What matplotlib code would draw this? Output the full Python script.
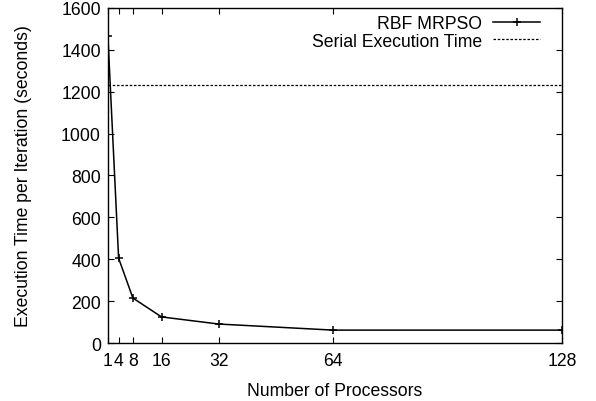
import matplotlib
matplotlib.use('Agg')
import matplotlib.pyplot as plt

plt.rcParams['font.family'] = ['Liberation Sans', 'DejaVu Sans']

processors = [1, 4, 8, 16, 32, 64, 128]
exec_time = [1466, 405, 215, 125, 91, 62, 62]
serial_time = 1230
yticks = [0, 200, 400, 600, 800, 1000, 1200, 1400, 1600]

fs = 12.7

fig = plt.figure(figsize=(5.96, 4.02), dpi=100)
ax = fig.add_axes([0.181, 0.144, 0.762, 0.834])

ax.plot(processors, exec_time, color='black', lw=1.1, marker='+', ms=6, mew=1.1,
        label='RBF MRPSO')
ax.axhline(serial_time, color='black', lw=0.9, ls=(0, (2.0, 1.4)),
           label='Serial Execution Time')

ax.set_xlim(1, 128)
ax.set_ylim(0, 1600)
ax.set_xticks(processors)
ax.set_yticks(yticks)
ax.tick_params(direction='in', top=True, right=True, length=4, width=0.8,
               labelsize=fs)
ax.tick_params(axis='x', pad=6.5)
ax.tick_params(axis='y', pad=5)
for s in ax.spines.values():
    s.set_linewidth(1.0)

ax.set_xlabel('Number of Processors', fontsize=fs, labelpad=9.5)
ax.set_ylabel('Execution Time per Iteration (seconds)', fontsize=fs, labelpad=21)

ax.legend(loc='upper right', bbox_to_anchor=(0.96, 0.99), frameon=False,
          markerfirst=False, fontsize=fs, handlelength=2.7, handletextpad=0.6,
          borderaxespad=0.0, labelspacing=0.05, borderpad=0.2)

fig.savefig('out.png', dpi=100)
